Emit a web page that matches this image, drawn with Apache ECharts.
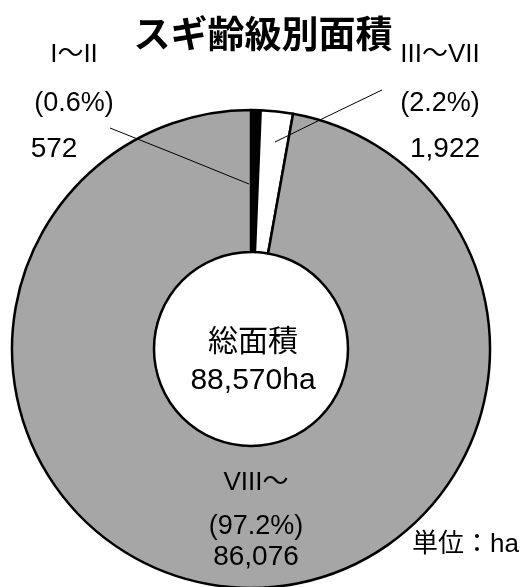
<!DOCTYPE html>
<html>
<head>
<meta charset="utf-8">
<script src="https://cdn.jsdelivr.net/npm/echarts@6/dist/echarts.min.js"></script>
<style>
html,body{margin:0;padding:0;background:#fff;}
#chart{width:525px;height:587px;}
</style>
</head>
<body>
<div id="chart"></div>
<script>
const titleText = 'スギ齢級別面積';
const categories = ['I〜II', 'III〜VII', 'VIII〜'];
const values = [572, 1922, 86076];
const percents = ['(0.6%)', '(2.2%)', '(97.2%)'];
const valueLabels = ['572', '1,922', '86,076'];
const totalLabel = ['総面積', '88,570ha'];
const unitText = '単位：ha';

const FONT = '"Liberation Sans", "Noto Sans CJK JP", sans-serif';
const colors = ['#000000', '#ffffff', '#a6a6a6'];

// label layout (positions kept out of the data arrays)
const labelPos = [
  { x: 74, y: 29, h: [52, 46, 44], cPad: [0, 40, 0, 0], line: [[110, 128], [180, 156], [249, 184]] },
  { x: 440, y: 29, h: [52, 46, 44], cPad: [0, 0, 0, 10], line: [[382, 90], [328, 116], [275, 142]] },
  { x: 256, y: 454, h: [58, 30, 30], cPad: [0, 0, 0, 0], line: null }
];

const sliceData = categories.map((name, i) => ({
  name: name,
  value: values[i],
  itemStyle: { color: colors[i] }
}));

const labelData = categories.map((name, i) => ({
  name: name,
  value: values[i],
  label: {
    rich: {
      a: { fontSize: 26, lineHeight: labelPos[i].h[0], color: '#000', fontFamily: FONT },
      b: { fontSize: 27, lineHeight: labelPos[i].h[1], color: '#000', fontFamily: FONT },
      c: { fontSize: 28, lineHeight: labelPos[i].h[2], color: '#000', fontFamily: FONT, padding: labelPos[i].cPad }
    }
  },
  labelLine: { show: !!labelPos[i].line }
}));

const pieCenter = [251, 349];
const pieRadius = [97, 239];

const chart = echarts.init(document.getElementById('chart'));
chart.setOption({
  animation: false,
  backgroundColor: '#fff',
  title: {
    text: titleText,
    left: 258,
    top: 10,
    textAlign: 'center',
    textStyle: { fontSize: 37, fontWeight: 'bold', color: '#000', fontFamily: '"Noto Sans CJK JP", sans-serif' }
  },
  graphic: [
    { type: 'text', x: 253, y: 343, z: 10, style: { text: totalLabel[0], align: 'center', verticalAlign: 'middle', fontSize: 30, fill: '#000', fontFamily: FONT } },
    { type: 'text', x: 253, y: 381, z: 10, style: { text: totalLabel[1], align: 'center', verticalAlign: 'middle', fontSize: 30, fill: '#000', fontFamily: FONT } },
    { type: 'text', x: 412, y: 545, z: 10, style: { text: unitText, align: 'left', verticalAlign: 'middle', fontSize: 26, fill: '#000', fontFamily: FONT } }
  ],
  series: [{
    type: 'pie',
    z: 2,
    center: pieCenter,
    radius: pieRadius,
    startAngle: 90,
    clockwise: true,
    silent: true,
    itemStyle: { borderColor: '#000', borderWidth: 2.5 },
    label: { show: false },
    labelLine: { show: false },
    data: sliceData
  }, {
    type: 'pie',
    z: 5,
    center: pieCenter,
    radius: pieRadius,
    startAngle: 90,
    clockwise: true,
    silent: true,
    avoidLabelOverlap: false,
    itemStyle: { color: 'rgba(0,0,0,0)', borderWidth: 0 },
    label: {
      show: true,
      position: 'outside',
      formatter: (p) => '{a|' + categories[p.dataIndex] + '}\n{b|' + percents[p.dataIndex] + '}\n{c|' + valueLabels[p.dataIndex] + '}',
      color: '#000'
    },
    labelLine: { show: true, lineStyle: { color: '#000', width: 1 } },
    labelLayout: function (params) {
      const lp = labelPos[params.dataIndex];
      const out = { x: lp.x, y: lp.y, align: 'center', verticalAlign: 'top' };
      if (lp.line) out.labelLinePoints = lp.line;
      return out;
    },
    data: labelData
  }]
});
</script>
</body>
</html>
